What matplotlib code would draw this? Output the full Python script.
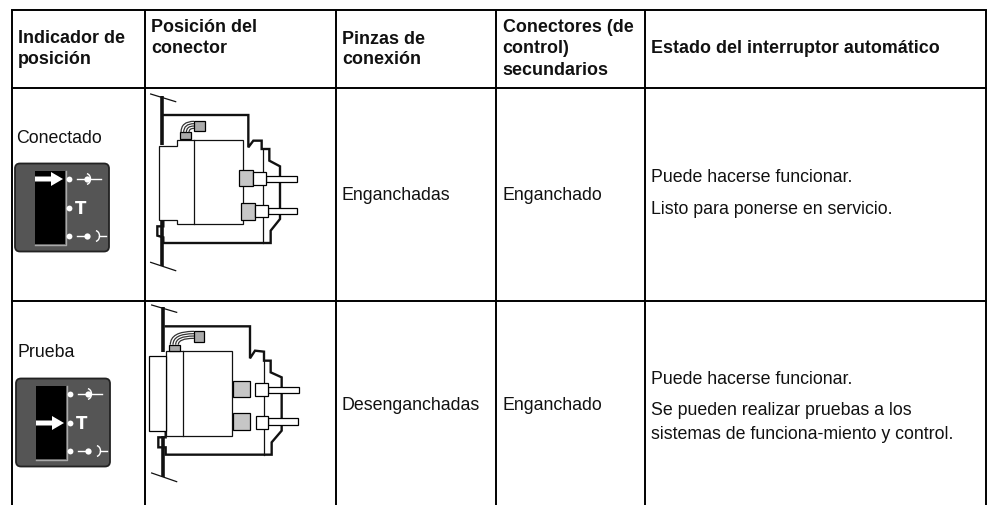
"""Table of breaker positions, drawn in pixel coordinates."""
import matplotlib
matplotlib.use("Agg")
import matplotlib.pyplot as plt
from matplotlib.patches import FancyBboxPatch, Polygon, Rectangle, Arc, PathPatch
from matplotlib.path import Path

W, H = 988, 506
plt.rcParams['font.family'] = ['Liberation Sans', 'DejaVu Sans']

# table grid
col_x = [11.5, 145, 335.5, 495.5, 645, 986]
row_y = [11, 89, 301.5]

# (x, baseline y, text)
headers = [
    (18, 43, "Indicador de"), (18, 64, "posición"),
    (151, 32, "Posición del"), (151, 53, "conector"),
    (342, 43.5, "Pinzas de"), (342, 64, "conexión"),
    (502.5, 32, "Conectores (de"), (502.5, 53, "control)"), (502.5, 75, "secundarios"),
    (651, 53, "Estado del interruptor automático"),
]
cells = [
    (16.5, 143, "Conectado"), (341, 199.5, "Enganchadas"), (502.5, 199.5, "Enganchado"),
    (651, 182, "Puede hacerse funcionar."), (651, 214.5, "Listo para ponerse en servicio."),
    (17.5, 357, "Prueba"), (341.5, 410, "Desenganchadas"), (502.5, 410, "Enganchado"),
    (651, 383.5, "Puede hacerse funcionar."),
    (651, 415.5, "Se pueden realizar pruebas a los"),
    (651, 439, "sistemas de funciona-miento y control."),
]

# indicator panels: offset and which row the arrow points at
panel_offsets = [(0, 0), (1, 215)]
arrow_rows = [180, 209]

# connector drawings, traced in 3x zoom coordinates: (origin x, origin y)
origins = [(0, 90), (0, 300)]
housing = [
    [(490, 78), (745, 78), (745, 175), (760, 155), (785, 155), (785, 180), (808, 180),
     (808, 215), (840, 232), (840, 390), (812, 425), (812, 462), (490, 462), (490, 445),
     (472, 440), (472, 412), (490, 412), (490, 390)],
    [(497, 82), (750, 82), (750, 178), (765, 155), (792, 158), (792, 185), (812, 185),
     (812, 220), (845, 235), (845, 395), (815, 430), (815, 467), (497, 467), (497, 445),
     (475, 445), (475, 415), (497, 415), (497, 395)],
]
walls = [[(487, 20, 168), (487, 390, 530)], [(490, 25, 160), (490, 410, 535)]]
flanges = [[(452, 15, 527, 38), (452, 520, 527, 545)], [(455, 18, 530, 40), (455, 522, 530, 548)]]
inner_x = [(790, 180, 462), (792, 185, 467)]
breakers = [
    [(478, 170), (530, 170), (530, 152), (730, 152), (730, 405), (530, 405), (530, 392), (478, 392)],
    [(497, 155), (697, 155), (697, 410), (497, 410)],
]
dividers = [(582, 152, 405), (550, 155, 410)]
gray_blocks = [
    [(718, 243, 760, 292), (722, 342, 765, 392)],
    [(700, 245, 750, 295), (700, 343, 750, 393)],
]
white_blocks = [
    [(760, 250, 798, 288), (765, 348, 803, 385)],
    [(765, 253, 803, 292), (767, 350, 805, 390)],
]
pins = [
    [(798, 260, 892, 280), (803, 356, 892, 375)],
    [(805, 263, 898, 283), (805, 358, 895, 378)],
]
front_plate = (447, 172, 497, 395)
wire_boxes = [
    [(540, 130, 572, 150), (582, 95, 615, 125)],
    [(508, 137, 540, 155), (582, 95, 612, 128)],
]

fig = plt.figure(figsize=(W / 100, H / 100), dpi=100)
ax = fig.add_axes([0, 0, 1, 1])
ax.set_xlim(0, W)
ax.set_ylim(H, 0)
ax.axis('off')

for x in col_x:
    ax.plot([x, x], [row_y[0], H], color='black', lw=1.4, solid_capstyle='butt')
for y in row_y:
    ax.plot([col_x[0], col_x[-1]], [y, y], color='black', lw=1.4, solid_capstyle='projecting')

for x, y, s in headers:
    ax.text(x, y, s, fontsize=12.85, fontweight='bold', va='baseline', ha='left', color='#111111')
for x, y, s in cells:
    ax.text(x, y, s, fontsize=12.8, va='baseline', ha='left', color='#111111')


def draw_panel(dx, dy, arrow_y):
    ax.add_patch(FancyBboxPatch((15 + dx, 164.5 + dy), 94, 88, boxstyle="round,pad=0,rounding_size=5",
                                fc='#555555', ec='#222222', lw=1.3, zorder=2))
    ax.add_patch(Rectangle((35 + dx, 172 + dy), 30, 73, fc='black', ec='none', zorder=3))
    ax.plot([65.5 + dx, 65.5 + dx, 35 + dx], [172 + dy, 245.5 + dy, 245.5 + dy], color='#aaaaaa', lw=1, zorder=3)
    y = arrow_y + dy
    ax.add_patch(Polygon([(35 + dx, y - 2.5), (51 + dx, y - 2.5), (51 + dx, y - 7), (63 + dx, y),
                          (51 + dx, y + 7), (51 + dx, y + 2.5), (35 + dx, y + 2.5)],
                         fc='white', ec='none', zorder=4))
    for yy in (180, 209, 237):
        ax.plot(69 + dx, yy + dy, 'o', color='white', ms=4.2, mec='none', zorder=4)
    ax.text(81 + dx, 209 + dy, "T", color='white', fontsize=12, fontweight='bold', ha='center',
            va='center', family='DejaVu Sans', zorder=4)
    # closed symbol
    ax.plot([77 + dx, 86 + dx], [180 + dy, 180 + dy], color='white', lw=1, zorder=4)
    ax.plot(87 + dx, 180 + dy, 'o', color='white', ms=4.5, mec='none', zorder=4)
    ax.add_patch(Arc((86 + dx, 180 + dy), 9, 11, theta1=-80, theta2=80, color='white', lw=1, zorder=4))
    ax.plot([90 + dx, 100.5 + dx], [180 + dy, 180 + dy], color='white', lw=1, zorder=4)
    # open symbol
    ax.plot([77 + dx, 86 + dx], [237 + dy, 237 + dy], color='white', lw=1, zorder=4)
    ax.plot(87 + dx, 237 + dy, 'o', color='white', ms=4.5, mec='none', zorder=4)
    ax.add_patch(Arc((95 + dx, 237 + dy), 9, 11, theta1=-80, theta2=80, color='white', lw=1, zorder=4))
    ax.plot([99 + dx, 106 + dx], [237 + dy, 237 + dy], color='white', lw=1, zorder=4)


for (dx, dy), ay in zip(panel_offsets, arrow_rows):
    draw_panel(dx, dy, ay)


def draw_connector(i):
    ox, oy = origins[i]

    def px(p):
        return (p[0] / 3 + ox, p[1] / 3 + oy)

    def box(b, fc, lw=0.9, ec='black'):
        x0, y0 = px(b[:2])
        x1, y1 = px(b[2:])
        ax.add_patch(Rectangle((x0, y0), x1 - x0, y1 - y0, fc=fc, ec=ec, lw=lw, zorder=3))

    xs, ys = zip(*[px(p) for p in housing[i]])
    ax.plot(xs, ys, color='#111111', lw=1.7, zorder=2, solid_joinstyle='miter')
    for x, y0, y1 in walls[i]:
        ax.plot([px((x, y0))[0]] * 2, [px((x, y0))[1], px((x, y1))[1]], color='#111111', lw=2.6, zorder=2,
                solid_capstyle='butt')
    for x0, y0, x1, y1 in flanges[i]:
        a, b = px((x0, y0)), px((x1, y1))
        ax.plot([a[0], b[0]], [a[1], b[1]], color='#111111', lw=0.9, zorder=2)
    x, y0, y1 = inner_x[i]
    ax.plot([px((x, y0))[0]] * 2, [px((x, y0))[1], px((x, y1))[1]], color='#111111', lw=0.9, zorder=2)
    ax.add_patch(Polygon([px(p) for p in breakers[i]], fc='white', ec='#111111', lw=0.9, zorder=3))
    if i == 1:
        box(front_plate, 'white')
    x, y0, y1 = dividers[i]
    ax.plot([px((x, y0))[0]] * 2, [px((x, y0))[1], px((x, y1))[1]], color='#111111', lw=0.9, zorder=4)
    for b in pins[i]:
        box(b, 'white')
    for b in gray_blocks[i]:
        box(b, '#c6c6c6')
    for b in white_blocks[i]:
        box(b, 'white')
    # wiring
    a, b = wire_boxes[i]
    box(a, '#aaaaaa')
    box(b, '#aaaaaa')
    for k in range(4):
        x0 = a[0] + 3 + k * 8
        y1 = b[1] + 2 + k * 7
        pts = [px((x0, a[1])), px((x0, y1)), px((b[0], y1))]
        ax.add_patch(PathPatch(Path(pts, [Path.MOVETO, Path.CURVE3, Path.CURVE3]), fc='none',
                               ec='#333333', lw=0.9, zorder=4))


for i in range(2):
    draw_connector(i)

fig.savefig('out.png', dpi=100)
